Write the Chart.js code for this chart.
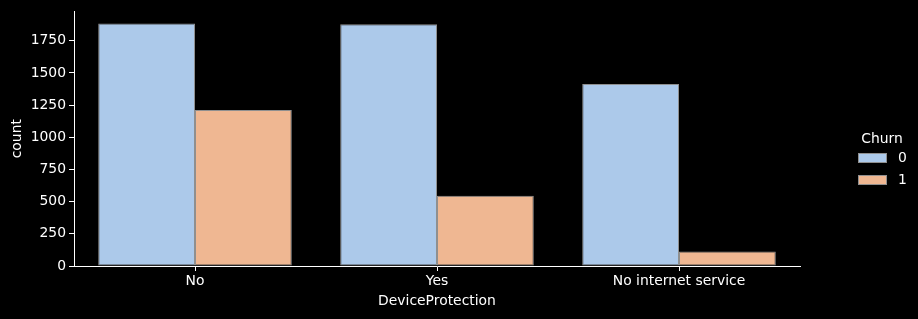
<!DOCTYPE html>
<html>
<head>
<meta charset="utf-8">
<script src="https://cdn.jsdelivr.net/npm/chart.js@4"></script>
<style>
html,body{margin:0;padding:0;background:#000;}
#wrap{width:918px;height:319px;}
</style>
</head>
<body>
<div id="wrap"><canvas id="c" width="918" height="319"></canvas></div>
<script>
const categories = ["No", "Yes", "No internet service"];
const churn0 = [1884, 1877, 1413];
const churn1 = [1211, 545, 113];
const seriesLabels = ["0", "1"];
const yTicks = [0, 250, 500, 750, 1000, 1250, 1500, 1750];
const legendTitle = "Churn";
const xTitle = "DeviceProtection";
const yTitle = "count";

const colors = ["#acc9ea", "#efb792"];
const edge = "#8f8f8f";
const FONT = "'DejaVu Sans', sans-serif";
const FS = 13.9;

const legendPlugin = {
  id: 'customLegend',
  afterDraw(chart) {
    const ctx = chart.ctx;
    ctx.save();
    ctx.font = FS + "px " + FONT;
    ctx.fillStyle = "#ffffff";
    ctx.textAlign = "center";
    ctx.textBaseline = "middle";
    ctx.fillText(legendTitle, 882, 139);
    chart.data.datasets.forEach((ds, i) => {
      const y = 153 + i * 22;
      ctx.fillStyle = ds.backgroundColor;
      ctx.fillRect(858, y, 29, 10);
      ctx.strokeStyle = edge;
      ctx.lineWidth = 1;
      ctx.strokeRect(858.5, y + 0.5, 28, 9);
      ctx.fillStyle = "#ffffff";
      ctx.textAlign = "left";
      ctx.fillText(ds.label, 898, y + 5.5);
    });
    ctx.restore();
  }
};

const maxVal = Math.max(...churn0, ...churn1) * 1.05;

new Chart(document.getElementById('c'), {
  type: 'bar',
  data: {
    labels: categories,
    datasets: [
      { label: seriesLabels[0], data: churn0, backgroundColor: colors[0], borderColor: edge, borderWidth: 1, borderSkipped: false },
      { label: seriesLabels[1], data: churn1, backgroundColor: colors[1], borderColor: edge, borderWidth: 1, borderSkipped: false }
    ]
  },
  options: {
    responsive: false,
    animation: false,
    devicePixelRatio: 1,
    layout: { padding: { top: 10, right: 118, left: 0, bottom: 0 } },
    datasets: { bar: { categoryPercentage: 0.8, barPercentage: 1.0 } },
    plugins: { legend: { display: false }, tooltip: { enabled: false } },
    scales: {
      x: {
        type: 'category',
        offset: true,
        grid: { display: true, drawOnChartArea: false, drawTicks: true, tickLength: 5, color: '#ffffff', offset: false },
        border: { display: true, color: '#ffffff', width: 1 },
        ticks: { color: '#ffffff', font: { family: FONT, size: FS }, padding: 2, maxRotation: 0 },
        title: { display: true, text: xTitle, color: '#ffffff', font: { family: FONT, size: FS }, padding: { top: 0, bottom: 9.5 } },
        afterFit(s) { s.height = 53; }
      },
      y: {
        min: 0,
        max: maxVal,
        grid: { display: true, drawOnChartArea: false, drawTicks: true, tickLength: 5, color: '#ffffff' },
        border: { display: true, color: '#ffffff', width: 1 },
        ticks: {
          color: '#ffffff', font: { family: FONT, size: FS }, padding: 3,
          autoSkip: false,
          callback: (v) => String(v)
        },
        afterBuildTicks(s) { s.ticks = yTicks.map(v => ({ value: v })); },
        title: { display: true, text: yTitle, color: '#ffffff', font: { family: FONT, size: FS }, padding: { top: 9, bottom: 0 } },
        afterFit(s) { s.width = 74; }
      }
    }
  },
  plugins: [legendPlugin]
});
</script>
</body>
</html>
